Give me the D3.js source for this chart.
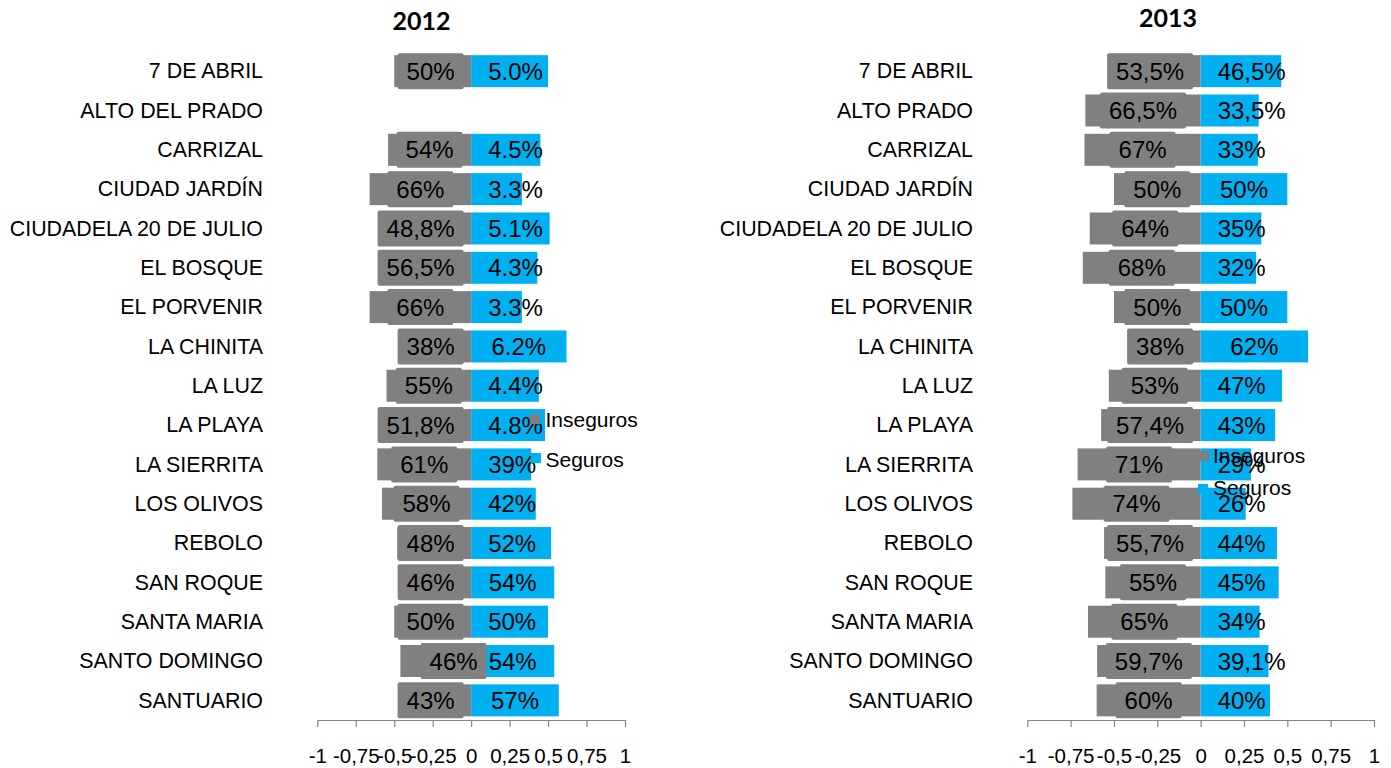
<!DOCTYPE html>
<html><head><meta charset="utf-8">
<script src="https://cdn.jsdelivr.net/npm/d3@7"></script>
<style>body{margin:0;background:#fff} svg{display:block}</style>
</head><body><svg id="c" width="1391" height="768"></svg>
<script>
// ---------- data ----------
const titles = ["2012", "2013"];
const seriesNames = ["Inseguros", "Seguros"];

const categories2012 = ["7 DE ABRIL","ALTO DEL PRADO","CARRIZAL","CIUDAD JARDÍN","CIUDADELA 20 DE JULIO","EL BOSQUE","EL PORVENIR","LA CHINITA","LA LUZ","LA PLAYA","LA SIERRITA","LOS OLIVOS","REBOLO","SAN ROQUE","SANTA MARIA","SANTO DOMINGO","SANTUARIO"];
const inseguros2012 = [0.50, null, 0.54, 0.66, 0.488, 0.565, 0.66, 0.38, 0.55, 0.518, 0.61, 0.58, 0.48, 0.46, 0.50, 0.46, 0.43];
const seguros2012   = [0.50, null, 0.45, 0.33, 0.51, 0.43, 0.33, 0.62, 0.44, 0.48, 0.39, 0.42, 0.52, 0.54, 0.50, 0.54, 0.57];
const insegurosLabels2012 = ["50%","","54%","66%","48,8%","56,5%","66%","38%","55%","51,8%","61%","58%","48%","46%","50%","46%","43%"];
const segurosLabels2012   = ["5.0%","","4.5%","3.3%","5.1%","4.3%","3.3%","6.2%","4.4%","4.8%","39%","42%","52%","54%","50%","54%","57%"];

const categories2013 = ["7 DE ABRIL","ALTO PRADO","CARRIZAL","CIUDAD JARDÍN","CIUDADELA 20 DE JULIO","EL BOSQUE","EL PORVENIR","LA CHINITA","LA LUZ","LA PLAYA","LA SIERRITA","LOS OLIVOS","REBOLO","SAN ROQUE","SANTA MARIA","SANTO DOMINGO","SANTUARIO"];
const inseguros2013 = [0.535, 0.665, 0.67, 0.50, 0.64, 0.68, 0.50, 0.38, 0.53, 0.574, 0.71, 0.74, 0.557, 0.55, 0.65, 0.597, 0.60];
const seguros2013   = [0.465, 0.335, 0.33, 0.50, 0.35, 0.32, 0.50, 0.62, 0.47, 0.43, 0.29, 0.26, 0.44, 0.45, 0.34, 0.391, 0.40];
const insegurosLabels2013 = ["53,5%","66,5%","67%","50%","64%","68%","50%","38%","53%","57,4%","71%","74%","55,7%","55%","65%","59,7%","60%"];
const segurosLabels2013   = ["46,5%","33,5%","33%","50%","35%","32%","50%","62%","47%","43%","29%","26%","44%","45%","34%","39,1%","40%"];

const tickValues = [-1, -0.75, -0.5, -0.25, 0, 0.25, 0.5, 0.75, 1];
const tickLabels = ["-1","-0,75","-0,5","-0,25","0","0,25","0,5","0,75","1"];

// ---------- style / layout ----------
const GREY = "#808080", BLUE = "#00B0F0", AXIS = "#868686";
const FONT = "'Liberation Sans', Arial, sans-serif";
const svg = d3.select("#c");

function drawPanel(p) {
  const g = svg.append("g");
  const x = d3.scaleLinear().domain([-1, 1]).range(p.xRange);
  const y = d3.scaleBand().domain(p.categories).range([51.5, 720])
    .paddingInner(0.186).paddingOuter(0.093);
  const x0 = x(0);
  const bw = y.bandwidth();

  // title
  g.append("text").attr("x", p.titleX).attr("y", p.titleY)
    .attr("text-anchor", "middle").attr("font-family", "Lato, 'Liberation Sans', sans-serif")
    .attr("font-weight", "bold").attr("font-size", 25).attr("fill", "#000").text(p.title);

  // category labels
  g.append("g").selectAll("text").data(p.categories).join("text")
    .attr("x", p.labelX).attr("y", d => y(d) + bw / 2 + 7.3)
    .attr("text-anchor", "end").attr("font-family", FONT).attr("font-size", 21.4)
    .attr("fill", "#000").text(d => d);

  const rows = p.categories.map((c, i) => ({
    c, ins: p.ins[i], seg: p.seg[i], insL: p.insL[i], segL: p.segL[i]
  })).filter(r => r.ins != null);

  // bars
  g.append("g").selectAll("rect").data(rows).join("rect")
    .attr("x", d => x(-d.ins)).attr("width", d => x0 - x(-d.ins))
    .attr("y", d => y(d.c)).attr("height", bw).attr("fill", GREY);
  g.append("g").selectAll("rect").data(rows).join("rect")
    .attr("x", x0).attr("width", d => x(d.seg) - x0)
    .attr("y", d => y(d.c)).attr("height", bw).attr("fill", BLUE);

  // grey data labels with grey boxes
  const labelG = g.append("g");
  rows.forEach(r => {
    const t = labelG.append("text").attr("font-family", FONT).attr("font-size", 24)
      .attr("text-anchor", "middle").attr("fill", "#000").text(r.insL);
    const w = t.node().getComputedTextLength();
    const center = (x(-r.ins) + x0) / 2;
    let cx = Math.min(center, x0 - 16.5 - w / 2) + (p.nudge[r.c] || 0);
    const cy = y(r.c) + bw / 2;
    labelG.insert("rect", "text").attr("x", cx - w / 2 - 9).attr("width", w + 18)
      .attr("y", cy - bw / 2 - 2).attr("height", bw + 4).attr("rx", 2).attr("fill", GREY);
    t.attr("x", cx).attr("y", cy + 8.6);
  });
  // blue data labels
  rows.forEach(r => {
    const t = labelG.append("text").attr("font-family", FONT).attr("font-size", 24)
      .attr("text-anchor", "middle").attr("fill", "#000").text(r.segL);
    const w = t.node().getComputedTextLength();
    const center = (x(r.seg) + x0) / 2;
    const cx = Math.max(center, x0 + 17 + w / 2);
    t.attr("x", cx).attr("y", y(r.c) + bw / 2 + 8.6);
  });

  // axis
  const axis = d3.axisBottom(x).tickValues(tickValues)
    .tickFormat((d, i) => tickLabels[i]).tickSize(7).tickSizeOuter(0);
  const ag = g.append("g").attr("transform", "translate(0,720)").call(axis);
  ag.select(".domain").attr("stroke", AXIS).attr("stroke-width", 1.2);
  ag.selectAll(".tick line").attr("stroke", AXIS).attr("stroke-width", 1.2);
  ag.selectAll(".tick text").attr("font-family", FONT).attr("font-size", 20.5)
    .attr("fill", "#000").attr("y", 43).attr("dy", 0);

  // legend
  const lg = g.append("g");
  seriesNames.forEach((s, i) => {
    const L = p.legend[i];
    lg.append("rect").attr("x", L.sx).attr("y", L.sy).attr("width", 10).attr("height", 10)
      .attr("fill", i === 0 ? GREY : BLUE);
    lg.append("text").attr("x", L.tx).attr("y", L.ty).attr("font-family", FONT)
      .attr("font-size", 21).attr("fill", "#000").text(s);
  });
}

drawPanel({
  title: titles[0], titleX: 421.5, titleY: 30,
  categories: categories2012, ins: inseguros2012, seg: seguros2012,
  insL: insegurosLabels2012, segL: segurosLabels2012,
  xRange: [317.3, 625], labelX: 263,
  nudge: {"SANTO DOMINGO": 23},
  legend: [{sx: 530, sy: 414, tx: 545.5, ty: 427}, {sx: 531, sy: 453, tx: 545.5, ty: 467}]
});
drawPanel({
  title: titles[1], titleX: 1168, titleY: 27,
  categories: categories2013, ins: inseguros2013, seg: seguros2013,
  insL: insegurosLabels2013, segL: segurosLabels2013,
  xRange: [1027.3, 1374], labelX: 973,
  nudge: {},
  legend: [{sx: 1199, sy: 451, tx: 1213, ty: 463}, {sx: 1198, sy: 484, tx: 1213, ty: 495}]
});
</script></body></html>
